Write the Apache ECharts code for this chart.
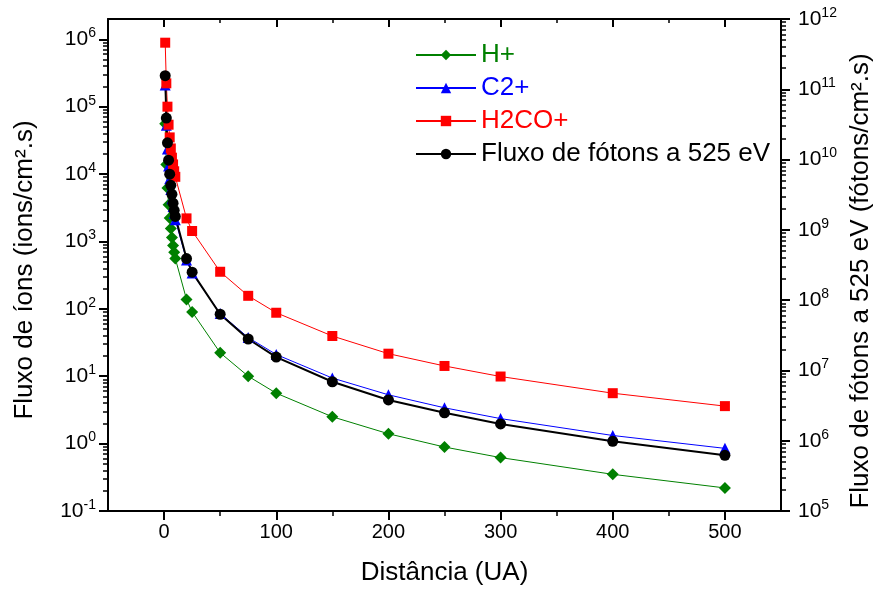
<!DOCTYPE html>
<html>
<head>
<meta charset="utf-8">
<script src="https://cdn.jsdelivr.net/npm/echarts@6/dist/echarts.min.js"></script>
<style>
html,body{margin:0;padding:0;background:#fff;}
#grafico{width:874px;height:598px;}
</style>
</head>
<body>
<div id="grafico"></div>
<script>
// distância (UA)
var distancias = [1, 2, 3, 4, 5, 6, 7, 8, 9, 10, 20, 25, 50, 75, 100, 150, 200, 250, 300, 400, 500];
// fluxo de íons (ions/cm2.s) - eixo esquerdo
var fluxoH = [5.6e4, 1.39e4, 6.2e3, 3.5e3, 2.23e3, 1.55e3, 1.14e3, 870, 690, 560, 138, 90, 22.3, 10, 5.6, 2.5, 1.4, 0.89, 0.62, 0.35, 0.22];
var fluxoC2 = [2.1e5, 5.3e4, 2.35e4, 1.32e4, 8.5e3, 5.9e3, 4.3e3, 3.3e3, 2.6e3, 2.1e3, 530, 340, 85, 37.5, 21, 9.4, 5.3, 3.4, 2.35, 1.32, 0.85];
var fluxoH2CO = [8.9e5, 2.22e5, 1.0e5, 5.4e4, 3.5e4, 2.4e4, 1.75e4, 1.39e4, 1.1e4, 9.1e3, 2.2e3, 1.43e3, 355, 156, 87.5, 39.5, 21.6, 14.2, 9.9, 5.6, 3.6];
// fluxo de fótons a 525 eV (fótons/cm2.s) - eixo direito
var fluxoFotons = [1.56e11, 3.9e10, 1.73e10, 9.8e9, 6.2e9, 4.3e9, 3.2e9, 2.4e9, 1.9e9, 1.55e9, 3.9e8, 2.5e8, 6.3e7, 2.8e7, 1.55e7, 6.9e6, 3.8e6, 2.5e6, 1.73e6, 9.8e5, 6.2e5];

// marcas dos eixos
var xMaior = [0, 100, 200, 300, 400, 500];
var xMenor = [50, 150, 250, 350, 450];
var yEsqMaior = [0.1, 1, 10, 100, 1e3, 1e4, 1e5, 1e6];
var yDirMaior = [1e5, 1e6, 1e7, 1e8, 1e9, 1e10, 1e11, 1e12];

function menores(kIni, kFim) {
    var v = [];
    for (var k = kIni; k <= kFim; k++) {
        for (var m = 2; m <= 9; m++) {
            v.push(m * Math.pow(10, k));
        }
    }
    return v;
}
var yEsqMenor = menores(-1, 5);
var yDirMenor = menores(5, 11);

function pares(ys) {
    return distancias.map(function (x, i) { return [x, ys[i]]; });
}

var fonte = 'Liberation Sans, Arial, sans-serif';

function potencia(v) {
    return '{b|10}{s|' + Math.round(Math.log10(v)) + '}';
}
var ricoPot = {
    b: {fontSize: 21, fontFamily: fonte, color: '#000', lineHeight: 26},
    s: {fontSize: 14, fontFamily: fonte, color: '#000', verticalAlign: 'top', lineHeight: 14}
};

var linhaEixo = {onZero: false, lineStyle: {color: '#000', width: 2}};
var semLinha = {show: false, onZero: false};

var myChart = echarts.init(document.getElementById('grafico'));
var option = {
    animation: false,
    grid: {left: 108, right: 93, top: 19, bottom: 87, outerBoundsMode: 'none'},
    legend: {
        orient: 'vertical',
        left: 410,
        top: 37,
        itemWidth: 60,
        itemHeight: 13,
        itemGap: 7,
        textStyle: {fontSize: 26, fontFamily: fonte},
        data: [
            {name: 'H+', textStyle: {color: '#008000'}},
            {name: 'C2+', textStyle: {color: '#0000ff'}},
            {name: 'H2CO+', textStyle: {color: '#ff0000'}},
            {name: 'Fluxo de fótons a 525 eV', textStyle: {color: '#000'}}
        ]
    },
    xAxis: [
        {
            type: 'value', position: 'bottom', min: -50, max: 550, interval: 50,
            axisLine: linhaEixo,
            axisTick: {customValues: xMaior, length: 9, lineStyle: {color: '#000', width: 2}},
            axisLabel: {customValues: xMaior, fontSize: 20, fontFamily: fonte, color: '#000', margin: 11},
            splitLine: {show: false},
            name: 'Distância (UA)', nameLocation: 'middle', nameGap: 49,
            nameTextStyle: {fontSize: 26, fontFamily: fonte, color: '#000'}
        },
        {
            type: 'value', position: 'bottom', min: -50, max: 550, interval: 50,
            axisLine: semLinha,
            axisTick: {customValues: xMenor, length: 5, lineStyle: {color: '#000', width: 1.5}},
            axisLabel: {show: false},
            splitLine: {show: false}
        },
        {
            type: 'value', position: 'top', min: -50, max: 550, interval: 50,
            axisLine: linhaEixo,
            axisTick: {customValues: xMaior, inside: true, length: 8, lineStyle: {color: '#000', width: 2}},
            axisLabel: {show: false},
            splitLine: {show: false}
        },
        {
            type: 'value', position: 'top', min: -50, max: 550, interval: 50,
            axisLine: semLinha,
            axisTick: {customValues: xMenor, inside: true, length: 4, lineStyle: {color: '#000', width: 1.5}},
            axisLabel: {show: false},
            splitLine: {show: false}
        }
    ],
    yAxis: [
        {
            type: 'log', logBase: 10, position: 'left', min: 0.1, max: 2e6,
            axisLine: linhaEixo,
            axisTick: {customValues: yEsqMaior, length: 9, lineStyle: {color: '#000', width: 2}},
            axisLabel: {customValues: yEsqMaior, formatter: potencia, rich: ricoPot, margin: 12},
            splitLine: {show: false},
            name: 'Fluxo de íons (ions/cm².s)', nameLocation: 'middle', nameGap: 70,
            nameTextStyle: {fontSize: 26, fontFamily: fonte, color: '#000', padding: [0, 10, 0, 0]}
        },
        {
            type: 'log', logBase: 10, position: 'right', min: 1e5, max: 1e12,
            axisLine: linhaEixo,
            axisTick: {customValues: yDirMaior, length: 9, lineStyle: {color: '#000', width: 2}},
            axisLabel: {customValues: yDirMaior, formatter: potencia, rich: ricoPot, margin: 17},
            splitLine: {show: false},
            name: 'Fluxo de fótons a 525 eV (fótons/cm².s)', nameLocation: 'middle', nameGap: 66,
            nameTextStyle: {fontSize: 26, fontFamily: fonte, color: '#000', padding: [0, 32, 0, 0]}
        },
        {
            type: 'log', logBase: 10, position: 'left', min: 0.1, max: 2e6,
            axisLine: semLinha,
            axisTick: {customValues: yEsqMenor, length: 5, lineStyle: {color: '#000', width: 1.5}},
            axisLabel: {show: false},
            splitLine: {show: false}
        },
        {
            type: 'log', logBase: 10, position: 'right', min: 1e5, max: 1e12,
            axisLine: semLinha,
            axisTick: {customValues: yDirMenor, length: 5, lineStyle: {color: '#000', width: 1.5}},
            axisLabel: {show: false},
            splitLine: {show: false}
        }
    ],
    series: [
        {
            name: 'H+', type: 'line', xAxisIndex: 0, yAxisIndex: 0,
            data: pares(fluxoH), symbol: 'diamond', symbolSize: 12,
            itemStyle: {color: '#008000'}, lineStyle: {color: '#008000', width: 1}
        },
        {
            name: 'C2+', type: 'line', xAxisIndex: 0, yAxisIndex: 0,
            data: pares(fluxoC2), symbol: 'triangle', symbolSize: 11,
            itemStyle: {color: '#0000ff'}, lineStyle: {color: '#0000ff', width: 1}
        },
        {
            name: 'H2CO+', type: 'line', xAxisIndex: 0, yAxisIndex: 0,
            data: pares(fluxoH2CO), symbol: 'rect', symbolSize: 10,
            itemStyle: {color: '#ff0000'}, lineStyle: {color: '#ff0000', width: 1}
        },
        {
            name: 'Fluxo de fótons a 525 eV', type: 'line', xAxisIndex: 0, yAxisIndex: 1,
            data: pares(fluxoFotons), symbol: 'circle', symbolSize: 11,
            itemStyle: {color: '#000'}, lineStyle: {color: '#000', width: 2}
        }
    ]
};
myChart.setOption(option);
</script>
</body>
</html>
